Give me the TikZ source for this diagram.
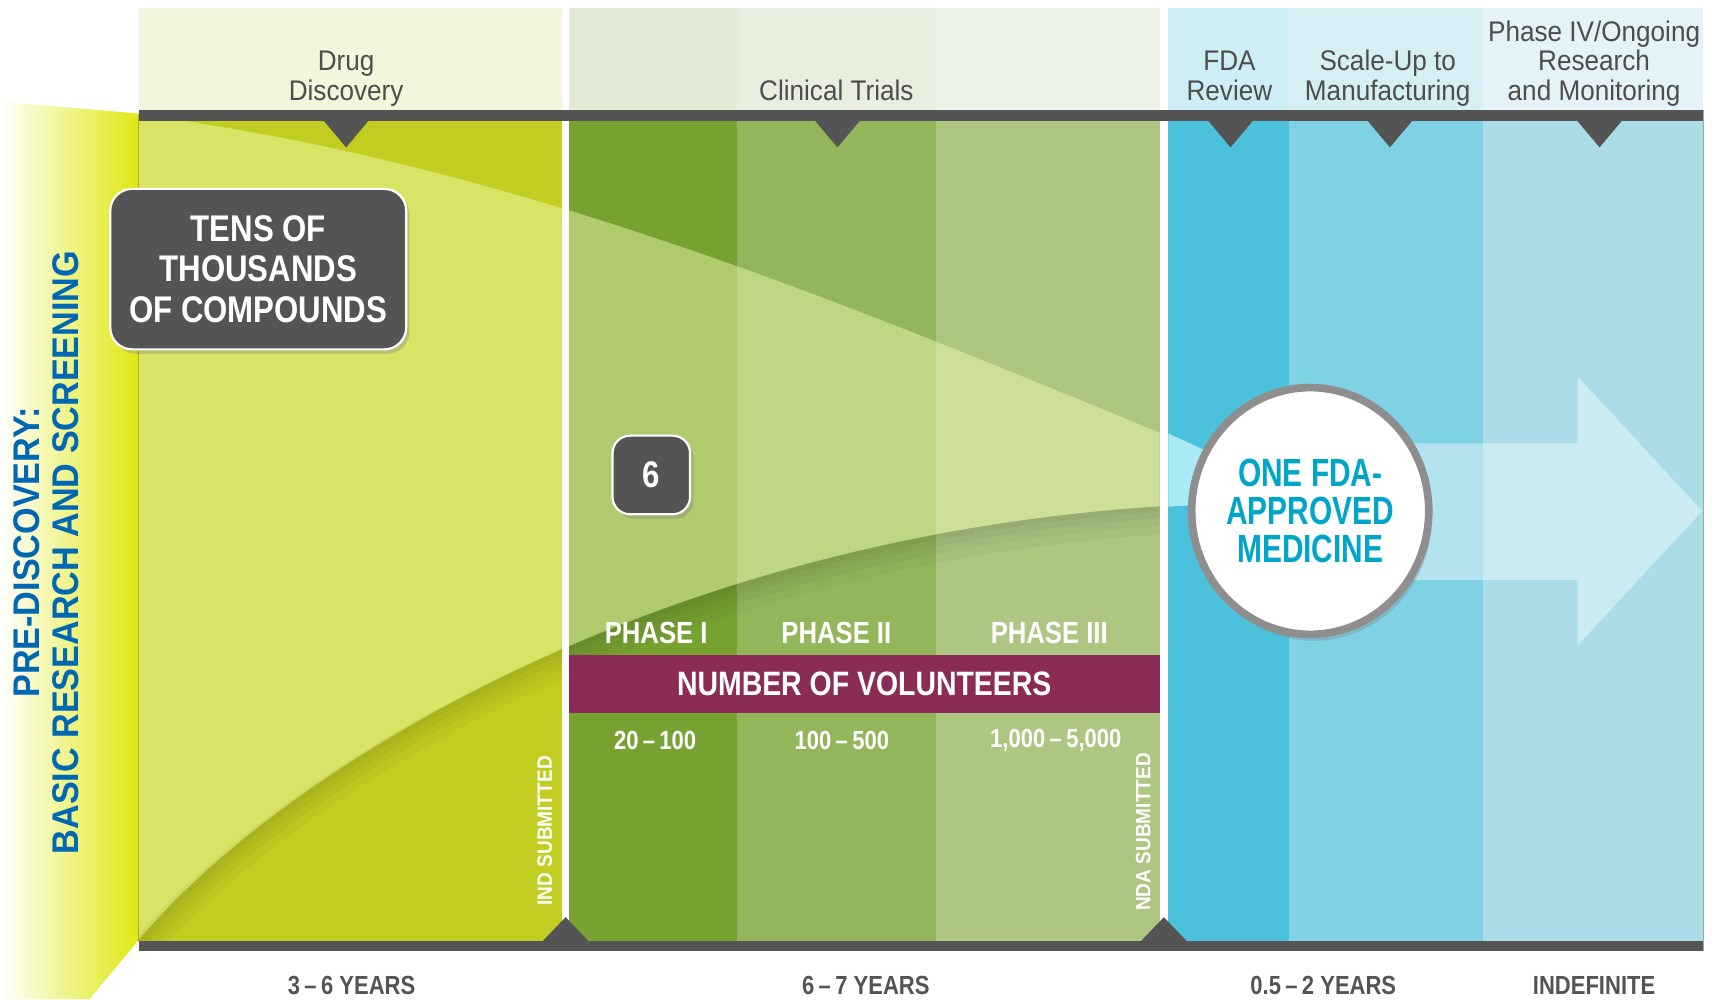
\documentclass[tikz,border=0pt]{standalone}
\usepackage{fontspec}
\setmainfont{Liberation Sans}
\newfontfamily\cond{Liberation Sans}[FakeStretch=0.84]
\newfontfamily\condr{Liberation Sans}[FakeStretch=0.92]
\newfontfamily\condx{Liberation Sans}[FakeStretch=0.76]
\usepackage{tikz}
\usetikzlibrary{shapes,shadows,positioning}

\definecolor{ddbase}{HTML}{C2CD22}\definecolor{ddhead}{HTML}{F2F6DC}
\definecolor{pIbase}{HTML}{77A232}\definecolor{pIhead}{HTML}{E2EBD6}
\definecolor{pIIbase}{HTML}{93B65A}\definecolor{pIIhead}{HTML}{E8EFDF}
\definecolor{pIIIbase}{HTML}{ADC682}\definecolor{pIIIhead}{HTML}{EDF2E6}
\definecolor{fdabase}{HTML}{4BC1DB}\definecolor{fdahead}{HTML}{CDEEF5}
\definecolor{supbase}{HTML}{7FD1E4}\definecolor{suphead}{HTML}{D6EFF5}
\definecolor{pIVbase}{HTML}{AADDE8}\definecolor{pIVhead}{HTML}{E4F3F8}
\definecolor{bar}{HTML}{545454}
\definecolor{hdrgray}{HTML}{4D4D4D}
\definecolor{purp}{HTML}{8B2C57}
\definecolor{medtxt}{HTML}{00A6CA}
\definecolor{ringgray}{HTML}{8E8E8E}
\definecolor{predisc}{HTML}{DFE811}
\definecolor{pdblue}{HTML}{0067B2}
\definecolor{funnelc}{HTML}{F6FFB7}
\definecolor{funcyan}{HTML}{A9EBF4}

\begin{document}
\begin{tikzpicture}[x=1pt, y=-1pt,
hdr/.style={font=\condr\fontsize{26}{27}\selectfont, text=hdrgray, align=center, anchor=south, inner sep=0pt},
wlab/.style={font=\cond\bfseries\fontsize{28}{28}\selectfont, text=white, inner sep=0pt},
num/.style={font=\cond\bfseries\fontsize{24}{24}\selectfont, text=white, inner sep=0pt},
yrs/.style={font=\cond\bfseries\fontsize{24}{24}\selectfont, text=bar, anchor=base, inner sep=0pt},
sub/.style={font=\condr\bfseries\fontsize{19}{19}\selectfont, text=white, rotate=90, inner sep=0pt},
darkbox/.style={rectangle, rounded corners=20pt, fill=bar, draw=white, line width=2pt, text=white, align=center, inner sep=0pt, font=\cond\bfseries\fontsize{34}{37}\selectfont, drop shadow={shadow xshift=3pt, shadow yshift=-4pt, opacity=0.35}},
medc/.style={ellipse, fill=white, draw=ringgray, line width=7pt, minimum width=213pt, minimum height=226pt, inner sep=0pt, text=medtxt, align=center, font=\condx\bfseries\fontsize{36}{35}\selectfont, drop shadow={shadow xshift=3pt, shadow yshift=-6pt, opacity=0.3}},
funnel/.style={fill=funnelc, fill opacity=0.45},
shadowln/.style={black, opacity=0.03},
arrowc/.style={fill=white, fill opacity=0.4}]
\useasboundingbox (0,0) rectangle (1568,915);

\shade[left color=white, right color=predisc] (0,93) -- (127,104) -- (127,861) .. controls (112,879) and (97,897) .. (82,915) -- (0,915) -- cycle;

\foreach \xa/\xb/\cb/\ch in {127/515/ddbase/ddhead, 521/675/pIbase/pIhead, 675/857/pIIbase/pIIhead, 857/1062/pIIIbase/pIIIhead, 1070/1181/fdabase/fdahead, 1181/1358/supbase/suphead, 1358/1560/pIVbase/pIVhead}{
  \fill[\ch] (\xa,7) rectangle (\xb,101);
  \fill[\cb] (\xa,110) rectangle (\xb,862);
}
\draw[ddbase!80!black, line width=0.8pt] (127,104) -- (127,862);

\begin{scope}
\clip (127,104) rectangle (515,862) (521,104) rectangle (1062,862);
\foreach \w in {26,18,11,5}{
  \draw[shadowln, line width=\w pt, yshift=-\w pt/2] (127,861) .. controls (257,705) and (620,476) .. (1120,461);
}
\fill[funnel] (0,93) .. controls (420,118) and (800,290) .. (1120,420) -- (1120,461) .. controls (620,476) and (257,705) .. (127,861) -- cycle;
\end{scope}
\fill[funcyan] (1070,397) -- (1120,420) -- (1120,461) -- (1070,464) -- cycle;

\fill[bar] (127,101) rectangle (1560,111);
\fill[bar] (127,862) rectangle (1560,871);
\foreach \x in {317,767,1127,1273,1465}{\fill[bar] (\x-21,110) -- (\x+21,110) -- (\x,135) -- cycle;}
\foreach \x in {518,1066}{\fill[bar] (\x-22,863) -- (\x+22,863) -- (\x,840) -- cycle;}
\draw[gray!70, line width=1pt] (1560,101) -- (1560,871);

\fill[arrowc] (1200,406) -- (1445,406) -- (1445,345) -- (1559,468) -- (1445,591) -- (1445,531) -- (1200,531) -- cycle;

\node[medc] (med) at (1200,468) {ONE FDA-\\APPROVED\\MEDICINE};
\node[darkbox, minimum width=271pt, minimum height=147pt] (tens) at (236.5,246.5) {TENS OF\\THOUSANDS\\OF COMPOUNDS};
\node[darkbox, rounded corners=16pt, minimum width=71pt, minimum height=72pt, font=\cond\bfseries\fontsize{34}{34}\selectfont] (six) at (596.5,435) {6};

\node[hdr] (dd) at (317,100) {Drug\\Discovery\strut};
\node[hdr] (ct) at (766,100) {Clinical Trials\strut};
\node[hdr] (fda) at (1126,100) {FDA\\Review\strut};
\node[hdr] (sup) at (1271,100) {Scale-Up to\\Manufacturing\strut};
\node[hdr] (pIV) at (1460,100) {Phase IV/Ongoing\\Research\\and Monitoring\strut};

\node[font=\condr\bfseries\fontsize{34}{36}\selectfont, text=pdblue, rotate=90, align=center, inner sep=0pt] (pd) at (42.5,506) {PRE-DISCOVERY:\\BASIC RESEARCH AND SCREENING};

\node[wlab] (phI) at (601,580) {PHASE I};
\node[wlab] (phII) at (766,580) {PHASE II};
\node[wlab] (phIII) at (961,580) {PHASE III};
\node[fill=purp, minimum width=541pt, minimum height=53pt, inner sep=0pt, text=white, font=\cond\bfseries\fontsize{31}{31}\selectfont] (vol) at (791.5,626.5) {NUMBER OF VOLUNTEERS};
\node[num] (nI) at (600,678) {20\,–\,100};
\node[num] (nII) at (771,678) {100\,–\,500};
\node[num] (nIII) at (967,678) {1,000\,–\,5,000};

\node[sub] (ind) at (499,761) {IND SUBMITTED};
\node[sub] (nda) at (1047,762) {NDA SUBMITTED};

\node[yrs] (yI) at (322,911) {3\,–\,6 YEARS};
\node[yrs] (yII) at (793,911) {6\,–\,7 YEARS};
\node[yrs] (yIII) at (1212,911) {0.5\,–\,2 YEARS};
\node[yrs] (yIV) at (1460,911) {INDEFINITE};
\end{tikzpicture}
\end{document}
